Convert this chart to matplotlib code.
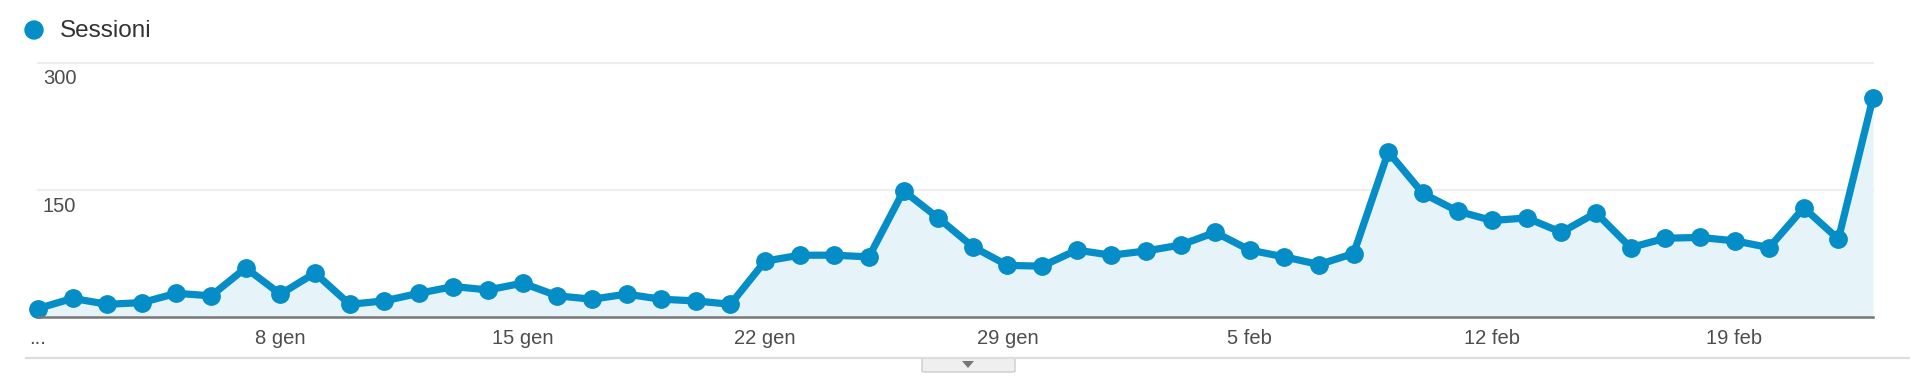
import matplotlib
matplotlib.use("Agg")
import matplotlib.pyplot as plt
from matplotlib.patches import Polygon, FancyBboxPatch, Circle
from matplotlib.lines import Line2D

plt.rcParams['font.family'] = ['Liberation Sans', 'DejaVu Sans']

# ---- data ----
series_name = "Sessioni"
sessions = [10, 22, 15, 17, 28, 25, 58, 27, 52, 15,
            19, 28, 36, 32, 40, 25, 21, 27, 21, 19,
            15, 66, 73, 73, 71, 149, 117, 83, 61, 60,
            79, 73, 78, 85, 100, 79, 71, 62, 75, 195,
            146, 125, 114, 117, 100, 123, 82, 93, 94, 90,
            82, 129, 92, 259]
xtick_pos = [0, 7, 14, 21, 28, 35, 42, 49]
xtick_labels = ["...", "8 gen", "15 gen", "22 gen", "29 gen", "5 feb", "12 feb", "19 feb"]
ytick_vals = [150, 300]
ytick_labels = ["150", "300"]

W, H = 1930, 384
fig = plt.figure(figsize=(W / 100, H / 100), dpi=100)
fig.patch.set_facecolor("white")

def fx(x):
    return x / W

def fy(y):
    return 1 - y / H

ax = fig.add_axes([fx(38), fy(317), fx(1873) - fx(38), (317 - 63) / H])
ax.set_facecolor("white")
x = list(range(len(sessions)))
blue = "#058dc7"
ax.fill_between(x, sessions, 0, color="#e6f4f9", zorder=1, linewidth=0)
ax.plot(x, sessions, color=blue, lw=5.2, marker="o", markersize=12.5,
        solid_joinstyle="round", zorder=3, clip_on=False)
ax.set_xlim(0, len(sessions) - 1)
ax.set_ylim(0, 300)

for v in ytick_vals:
    ax.axhline(v, color="#eeeeee", lw=1.6, zorder=0.5, clip_on=False)
ax.axhline(0, color="#777777", lw=1.8, zorder=4, clip_on=False)

for s in ax.spines.values():
    s.set_visible(False)
ax.set_xticks([])
ax.set_yticks([])

for v, lab in zip(ytick_vals, ytick_labels):
    ax.annotate(lab, xy=(0, v), xycoords=("axes fraction", "data"),
                xytext=(5 * 0.72, -16 * 0.72), textcoords="offset points",
                ha="left", va="center", fontsize=14.5, color="#4d4d4d")

for p, lab in zip(xtick_pos, xtick_labels):
    ax.annotate(lab, xy=(p, 0), xycoords=("data", "data"),
                xytext=(0, -21 * 0.72), textcoords="offset points",
                ha="center", va="center", fontsize=14.5, color="#4d4d4d",
                annotation_clip=False)

# legend
fig.patches.append(Circle((34, H - 30), 9, transform=None, color=blue))
fig.text(fx(60), fy(31), series_name, ha="left", va="center",
         fontsize=17.5, color="#333333")

# bottom separator line
fig.add_artist(Line2D([fx(26), fx(1909)], [fy(358), fy(358)], color="#dddddd", lw=1.6))

# small tab with triangle
tab = FancyBboxPatch((fx(922), fy(372)), fx(1015) - fx(922), (372 - 358) / H,
                     boxstyle="round,pad=0,rounding_size=0.002",
                     transform=fig.transFigure, facecolor="#efefef",
                     edgecolor="#cccccc", lw=1.0)
fig.add_artist(tab)
tri = Polygon([(fx(962), fy(361)), (fx(974), fy(361)), (fx(968), fy(368))],
              closed=True, transform=fig.transFigure, facecolor="#777777",
              edgecolor="none")
fig.add_artist(tri)

fig.savefig("out.png", dpi=100, facecolor="white")
